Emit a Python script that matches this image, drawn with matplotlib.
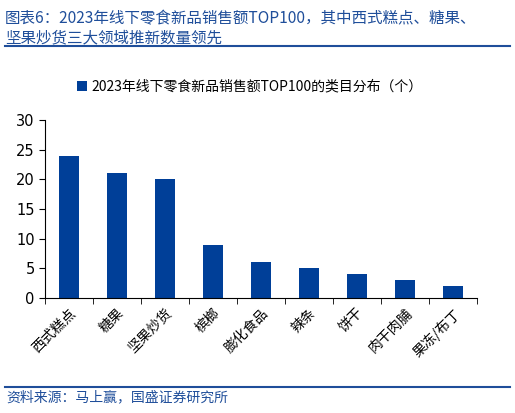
import matplotlib
matplotlib.use('Agg')
import matplotlib.pyplot as plt
import numpy as np

plt.rcParams['font.family'] = ['Noto Sans CJK SC', 'DejaVu Sans']

# --------- DATA ----------
categories = ["西式糕点", "糖果", "坚果炒货", "槟榔", "膨化食品", "辣条", "饼干", "肉干肉脯", "果冻/布丁"]
counts = [24, 21, 20, 9, 6, 5, 4, 3, 2]
series_name = "2023年线下零食新品销售额TOP100的类目分布（个）"
title_lines = ["图表6：2023年线下零食新品销售额TOP100，其中西式糕点、糖果、",
               "坚果炒货三大领域推新数量领先"]
source_text = "资料来源：马上赢，国盛证券研究所"
# -------------------------

BAR_COLOR = "#003f98"
TITLE_COLOR = "#1f4e9a"

fig = plt.figure(figsize=(5.15, 4.13), dpi=100)
ax = fig.add_axes([0.0874, 0.2785, 0.8386, 0.431])

x = np.arange(len(categories))
ax.bar(x, counts, width=0.42, color=BAR_COLOR, label=series_name)

ax.set_xlim(-0.5, len(categories) - 0.5)
ax.set_ylim(0, 30)
ax.set_yticks(range(0, 31, 5))
ax.tick_params(axis='y', labelsize=10.5, direction='out', length=4,
               labelfontfamily='DejaVu Sans')

# category labels, ticks between categories
ax.set_xticks(x)
ax.set_xticklabels(categories, rotation=45, ha='right', rotation_mode='anchor', fontsize=10)
ax.tick_params(axis='x', which='major', length=0, pad=6)
ax.set_xticks(np.arange(-0.5, len(categories), 1), minor=True)
ax.tick_params(axis='x', which='minor', length=4, direction='out')

for side in ['top', 'right']:
    ax.spines[side].set_visible(False)

ax.legend(loc='upper center', frameon=False,
          fontsize=10, handlelength=0.7, handleheight=0.7, handletextpad=0.3,
          borderaxespad=0)
leg = ax.get_legend()
leg.set_bbox_to_anchor((0.485, 0.82), transform=fig.transFigure)

# title
fig.text(0.01, 0.975, title_lines[0], color=TITLE_COLOR, fontsize=11.2,
         style='italic', va='top', ha='left')
fig.text(0.01, 0.93, title_lines[1], color=TITLE_COLOR, fontsize=11.2,
         style='italic', va='top', ha='left')
fig.add_artist(plt.Line2D([0.01, 0.99], [0.888, 0.888], transform=fig.transFigure,
                          color=TITLE_COLOR, lw=1.5))

# source
fig.add_artist(plt.Line2D([0.01, 0.99], [0.062, 0.062], transform=fig.transFigure,
                          color=TITLE_COLOR, lw=1.5))
fig.text(0.012, 0.038, source_text, color=TITLE_COLOR, fontsize=10,
         style='italic', va='center', ha='left')

fig.savefig("out.png", dpi=100)
